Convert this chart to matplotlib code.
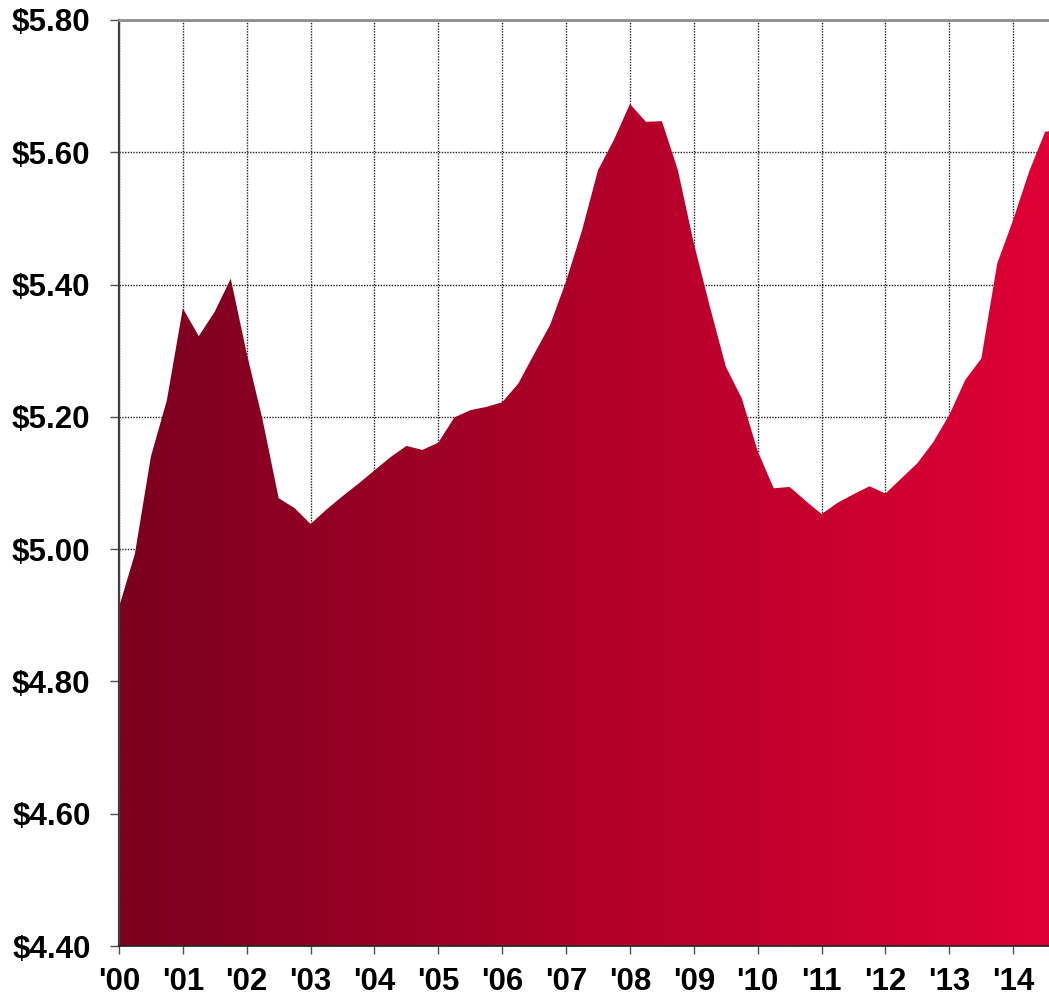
import matplotlib
matplotlib.use("Agg")
import matplotlib.pyplot as plt
import numpy as np
from matplotlib.colors import LinearSegmentedColormap
from matplotlib.patches import Polygon

# Quarterly average price, Q1 2000 onward
start_year = 2000
prices = [
    4.912, 4.993, 5.140, 5.225,   # 2000
    5.364, 5.322, 5.359, 5.409,   # 2001
    5.296, 5.195, 5.077, 5.062,   # 2002
    5.038, 5.060, 5.080, 5.099,   # 2003
    5.119, 5.139, 5.156, 5.150,   # 2004
    5.161, 5.199, 5.210, 5.215,   # 2005
    5.222, 5.250, 5.295, 5.339,   # 2006
    5.405, 5.482, 5.573, 5.619,   # 2007
    5.673, 5.646, 5.647, 5.573,   # 2008
    5.462, 5.367, 5.276, 5.228,   # 2009
    5.148, 5.092, 5.094, 5.073,   # 2010
    5.053, 5.070, 5.083, 5.095,   # 2011
    5.084, 5.107, 5.130, 5.162,   # 2012
    5.203, 5.256, 5.288, 5.432,   # 2013
    5.498, 5.571, 5.631, 5.634,   # 2014
]
year_ticks = list(range(2000, 2015))
year_labels = ["'%02d" % (y % 100) for y in year_ticks]
price_ticks = [4.40, 4.60, 4.80, 5.00, 5.20, 5.40, 5.60, 5.80]
price_labels = ["$%.2f" % v for v in price_ticks]

x = start_year + np.arange(len(prices)) / 4.0
y = np.array(prices)
ymin, ymax = price_ticks[0], price_ticks[-1]
xmin, xmax = 2000, 2014.56

plt.rcParams["font.family"] = ["Liberation Sans", "DejaVu Sans"]
plt.rcParams["font.weight"] = "bold"

fig = plt.figure(figsize=(10.49, 9.98), dpi=100)
ax = fig.add_axes([0.1134, 0.0521, 0.8866, 0.9279])

ax.set_xlim(xmin, xmax)
ax.set_ylim(ymin, ymax)

# Area outline used as clip path for the horizontal gradient
verts = [(x[0], ymin)] + list(zip(x, y)) + [(x[-1], ymin)]
area = Polygon(verts, closed=True, facecolor="none", edgecolor="none",
               transform=ax.transData)
ax.add_patch(area)

cmap = LinearSegmentedColormap.from_list("reds", ["#7a001e", "#b00029", "#e00034"])
grad = np.linspace(0, 1, 512).reshape(1, -1)
img = ax.imshow(grad, extent=[x[0], x[-1], ymin, ymax], aspect="auto",
                cmap=cmap, origin="lower", zorder=1, interpolation="bilinear")
img.set_clip_path(area)

ax.set_axisbelow(True)
ax.grid(True, linestyle=(0, (1, 1)), color="#202020", linewidth=1.0)

ax.set_xticks(year_ticks)
ax.set_xticklabels(year_labels)
ax.set_yticks(price_ticks)
ax.set_yticklabels(price_labels)

ax.tick_params(axis="x", direction="out", length=6, width=1, color="#505050",
               pad=9, labelsize=22.5)
ax.tick_params(axis="y", direction="out", length=6.5, width=1, color="#505050",
               pad=14, labelsize=22.5)

ax.spines["right"].set_visible(False)
ax.spines["top"].set_color("#8c8c8c")
ax.spines["top"].set_linewidth(2)
ax.spines["left"].set_color("#404040")
ax.spines["left"].set_linewidth(1.6)
ax.spines["bottom"].set_color("#202020")
ax.spines["bottom"].set_linewidth(1.2)

fig.savefig("out.png", dpi=100)
